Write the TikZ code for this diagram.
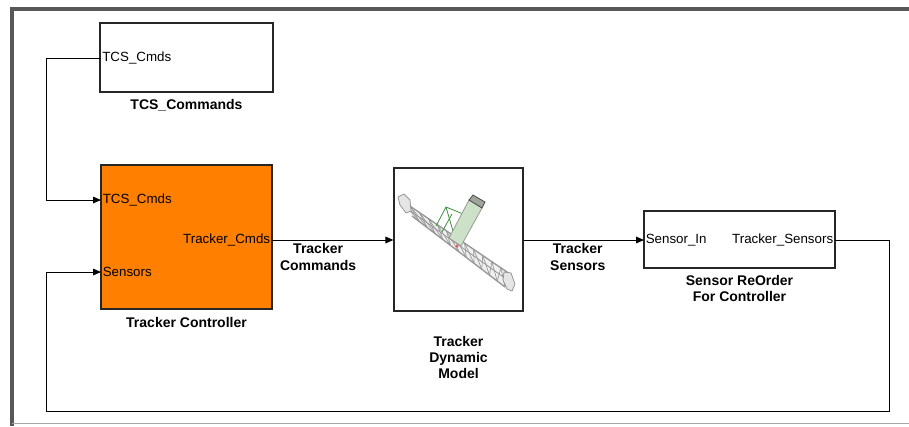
\documentclass[tikz,border=0pt]{standalone}
\usepackage{fontspec}
\setmainfont{Liberation Sans}
\usetikzlibrary{arrows.meta,positioning,calc}

\definecolor{ctrlorange}{RGB}{255,128,0}
\definecolor{framegray}{RGB}{88,88,88}
\definecolor{trussgray}{RGB}{150,150,150}
\definecolor{tubegreen}{RGB}{205,225,200}

\tikzset{every picture/.style={line width=0.75pt}}

\begin{document}
\begin{tikzpicture}[x=0.75pt,y=0.75pt,yscale=-1,xscale=1,
    block/.style={draw=black!85, line width=0.9pt, inner sep=0pt},
    port/.style={inner sep=1pt, font=\fontsize{10}{12}\selectfont},
    caption/.style={align=center, font=\fontsize{10.5}{12}\selectfont\bfseries},
    sigtext/.style={align=center, inner sep=1pt, font=\fontsize{10.5}{12.75}\selectfont\bfseries},
    wire/.style={line width=0.75pt},
    sig/.style={wire, -{Triangle[length=6pt,width=5pt]}}]
    \useasboundingbox (0,0) rectangle (909,426);

    %Frame
    \draw [framegray, line width=3pt] (12,426) -- (12,9) -- (909,9) ;
    \draw [gray!70, line width=1.2pt] (12,423.5) -- (909,423.5) ;

    %Blocks
    \node [block, minimum width=129.75pt, minimum height=51.75pt] (tcs) at (186.5,57.5) {};
    \node [block, fill=ctrlorange, minimum width=128.25pt, minimum height=108pt] (ctrl) at (186.5,237) {};
    \node [block, minimum width=96.75pt, minimum height=107.25pt] (plant) at (458.5,239.5) {};
    \node [block, minimum width=143.25pt, minimum height=42.75pt] (reorder) at (739.5,239.5) {};

    %Captions
    \node [caption, below=1pt of tcs] (tcslabel) {TCS\_Commands};
    \node [caption, below=2pt of ctrl] (ctrllabel) {Tracker Controller};
    \node [caption, below=15pt of plant] (plantlabel) {Tracker\\Dynamic\\Model};
    \node [caption, below=1pt of reorder] (reorderlabel) {Sensor ReOrder\\For Controller};

    %Ports
    \node [port, anchor=west] (tcsout) at (100.5,58) {TCS\_Cmds};
    \node [port, anchor=west] (ctrlin1) at (101,200) {TCS\_Cmds};
    \node [port, anchor=west] (ctrlin2) at (101,272) {Sensors};
    \node [port, anchor=east] (ctrlout) at (272,240) {Tracker\_Cmds};
    \node [port, anchor=west] (reorderin) at (644,240) {Sensor\_In};
    \node [port, anchor=east] (reorderout) at (835,240) {Tracker\_Sensors};

    %Route points
    \coordinate (leftx) at (46,0);
    \coordinate (rightx) at (889,0);
    \coordinate (bottomy) at (0,411);

    %Signals
    \draw [sig] (tcsout.west) -- (tcsout.west -| leftx) |- (ctrlin1.west) ;
    \draw [sig] (ctrlout.east) -- (ctrlout.east -| plant.west)
        node [sigtext, pos=0.38, below=1pt] (cmdlabel) {Tracker\\Commands} ;
    \draw [sig] (reorderin.west -| plant.east) -- (reorderin.west)
        node [sigtext, pos=0.45, below=1pt] (senslabel) {Tracker\\Sensors} ;
    \draw [sig] (reorderout.east) -- (reorderout.east -| rightx) -- (rightx |- bottomy)
        -- (leftx |- bottomy) |- (ctrlin2.west) ;

    %Tracker picture
    \coordinate (ta) at (401,200);
    \coordinate (tb) at (510,274);
    \coordinate (ma) at (405,207);
    \coordinate (mb) at (509,281);
    \coordinate (ba) at (412,216);
    \coordinate (bb) at (505,287);
    \fill [gray!12] (ta) -- (tb) -- (bb) -- (ba) -- cycle ;
    \draw [trussgray, line width=1pt] (ta) -- (tb) ;
    \draw [trussgray, line width=0.6pt] (ma) -- (mb) ;
    \draw [trussgray, line width=1pt] (ba) -- (bb) ;
    \foreach \i in {0,...,11} {
        \draw [trussgray, line width=0.5pt] ($(ta)!{\i/12}!(tb)$) -- ($(ba)!{(\i+1)/12}!(bb)$) ;
        \draw [trussgray, line width=0.5pt] ($(ta)!{(\i+1)/12}!(tb)$) -- ($(ba)!{(\i+1)/12}!(bb)$) ;
    }
    \draw [trussgray, fill=gray!20, line width=0.6pt] (398,197) -- (404,194) -- (410,200) -- (411,211) -- (406,213) -- (400,205) -- cycle ;
    \draw [trussgray, fill=gray!20, line width=0.6pt] (504,272) -- (511,273) -- (515,284) -- (512,291) -- (507,289) -- (503,280) -- cycle ;
    \draw [gray!60!green!80!black, line width=0.6pt] (436,226) -- (446,207) -- (463,214) ;
    \draw [gray!60!green!80!black, line width=0.6pt] (446,207) -- (455,238) ;
    \draw [gray!60!green!80!black, line width=0.6pt] (442,232) -- (452,214) ;
    \draw [gray!80, fill=tubegreen, line width=0.6pt] (461,246) -- (449,238) -- (469,200) -- (482,208) -- cycle ;
    \draw [gray!60!black, fill=gray!60!tubegreen, line width=0.6pt] (469,200) -- (482,208) -- (485,202) -- (473,195) -- cycle ;
    \fill [red!70] (457,246) circle (1.5) ;
\end{tikzpicture}
\end{document}
